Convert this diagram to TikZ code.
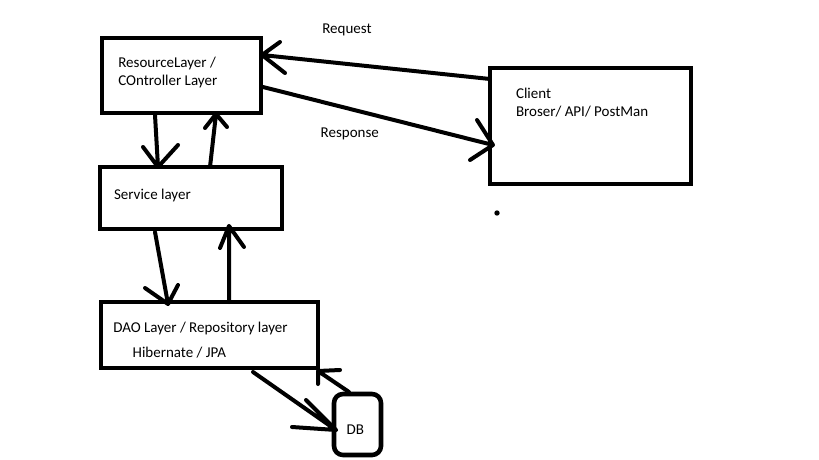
\documentclass[tikz,border=0pt]{standalone}
\usepackage{fontspec}
\setmainfont{Carlito}
\usetikzlibrary{calc}
\begin{document}
\begin{tikzpicture}[x=1pt,y=-1pt,
  box/.style={draw=black,line width=4.6pt,rectangle,outer sep=0pt,inner sep=0pt},
  conn/.style={draw=black,line width=4pt,line cap=round,line join=round},
  lbl/.style={anchor=base west,inner sep=0pt,outer sep=0pt,font=\fontsize{15}{18}\selectfont,text=black}]
\useasboundingbox[fill=white] (0,0) rectangle (819,460);
% boxes
\node[box,minimum width=159pt,minimum height=75pt] (res) at (181.5,75.5) {};
\node[box,minimum width=182pt,minimum height=62pt] (svc) at (191,198) {};
\node[box,minimum width=217pt,minimum height=66pt] (dao) at (209.5,335) {};
\node[box,minimum width=47pt,minimum height=61pt,rounded corners=9pt] (db) at (357.5,424.5) {};
\node[box,minimum width=201pt,minimum height=116pt] (cli) at (590.5,126) {};
% labels
\node[lbl] (t1) at (118.3,67.7) {ResourceLayer /};
\node[lbl] (t2) at (118.3,85.5) {COntroller Layer};
\node[lbl] (t3) at (322.3,34) {Request};
\node[lbl] (t4) at (320.7,137) {Response};
\node[lbl] (t5) at (114,199) {Service layer};
\node[lbl] (t6) at (113.3,332) {DAO Layer / Repository layer};
\node[lbl] (t7) at (132.7,357) {Hibernate / JPA};
\node[lbl] (t8) at (346.7,434) {DB};
\node[lbl] (t9) at (516,98.3) {Client};
\node[lbl] (t10) at (516,116.7) {Broser/ API/ PostMan};
% connector end points
\coordinate (a1) at ($(cli.north west)+(0,11)$);
\coordinate (b1) at ($(res.north east)+(1,17)$);
\coordinate (a2) at ($(res.north east)+(2,49)$);
\coordinate (b2) at ($(cli.north west)+(3,77)$);
\coordinate (a3) at ($(res.south west)+(53,2)$);
\coordinate (b3) at ($(svc.north west)+(58,0)$);
\coordinate (a4) at ($(svc.north west)+(110,0)$);
\coordinate (b4) at ($(res.south west)+(114,1)$);
\coordinate (a5) at ($(svc.south west)+(55,3)$);
\coordinate (b5) at ($(dao.north west)+(67,2)$);
\coordinate (a6) at ($(dao.north west)+(128,0)$);
\coordinate (b6) at ($(svc.south west)+(129,-3)$);
\coordinate (a7) at ($(dao.south west)+(152,4)$);
\coordinate (b7) at ($(db.west)+(2,5.5)$);
\coordinate (a8) at ($(db.north west)+(15,-2)$);
\coordinate (b8) at ($(dao.south east)+(0,3)$);
% connectors with hand-drawn heads
\draw[conn] (a1) -- (b1) -- ++(18,-13) (b1) -- ++(23,18);
\draw[conn] (a2) -- (b2) -- ++(-16,-25) (b2) -- ++(-23,15);
\draw[conn] (a3) -- (b3) -- ++(-15,-20) (b3) -- ++(20,-22);
\draw[conn] (a4) -- (b4) -- ++(-11,14) (b4) -- ++(11,13);
\draw[conn] (a5) -- (b5) -- ++(-23,-16) (b5) -- ++(10,-19);
\draw[conn] (a6) -- (b6) -- ++(-9,22) (b6) -- ++(15,21);
\draw[conn] (a7) -- (b7) -- ++(-44,-3) (b7) -- ++(-30,-30);
\draw[conn] (a8) -- (b8) -- ++(22,-1) (b8) -- ++(0,13);
% stray dot
\fill[black] (497,213) circle (2.7pt);
\end{tikzpicture}
\end{document}
